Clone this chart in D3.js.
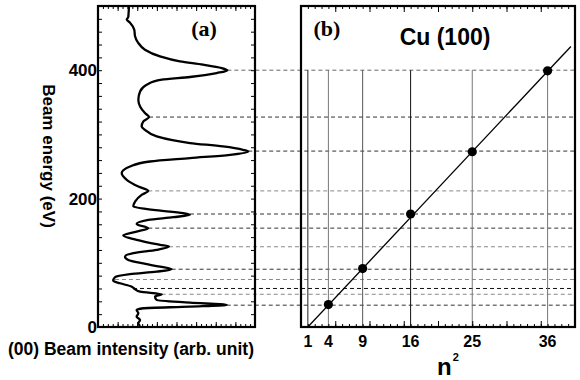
<!DOCTYPE html>
<html><head><meta charset="utf-8">
<script src="https://cdn.jsdelivr.net/npm/d3@7"></script>
<style>body{margin:0;background:#fff}svg{display:block}</style>
</head><body><svg id="c" width="580" height="380"></svg>
<script>
// (00) beam intensity curve: beam energy (eV) vs intensity (arb. unit)
const curveEnergy = [500,483,479,474,463,453,443,432,421.5,413.7,408.6,403.4,399.7,395.6,389.4,385.2,377.4,366.9,354,343.5,333.3,327,320.2,312.4,307.2,296.8,286.5,281.2,276,273.4,268.2,263.1,257.8,250,239.7,229.2,218.8,212.1,205.8,195.4,187.6,182.5,177.3,174.7,171.1,166.9,160.6,153.9,148.6,142.4,135.7,127.9,125.2,120.1,114.9,109.6,104.5,99.3,94,90,86.2,82.2,77.5,72.2,68.1,62.8,58.8,55,51,47.3,42.1,37.9,34.3,31.7,29.2,26.5,21.4,16.1,10.9,5.8,1.6];
const curveIntensity = [19.7,19.3,18.3,20.4,23.1,23.6,25.5,29.9,39.5,52.2,66.9,78.8,82.4,75.6,58.6,40.6,31,26.8,25.7,26.8,29.9,32.5,28.9,27.8,29.9,37.4,58.6,79.6,92.4,95.7,84.1,58.6,33.1,20.4,15.1,18.3,25.7,32,27.8,23.6,22.5,35.2,54.3,58.6,48,32,24.6,32,24.6,16.1,24.6,39.5,45.2,37.4,22.5,17.2,19.3,27.8,39.5,46.9,37.4,20.4,10.8,9.7,14,21.5,23.6,26.8,40.6,36.3,37.4,58.6,82,58.6,28.9,24.6,25.7,24.6,26.8,25.7,26.8];
// peak markers (dashed guide lines)
const peakEnergy = [400,327,274,212,176,154,125,90,74,60,51,34];
const peakIntensity = [82.4,32.5,95.7,32,58.6,32,45.2,46.9,10.8,22.3,40.6,82];
const peakShade = ["#666","#333","#333","#888","#333","#333","#888","#333","#888","#111","#888","#333"];
// panel (b): n^2 vs peak energy
const nSquared = [4,9,16,25,36];
const peakEnergyB = [35,91,176,273,399];
const gridN2 = [1,4,9,16,25,36];
const gridShade = ["#222","#777","#555","#111","#777","#777"];
const fitN2 = [1,39.4];
const fitEnergy = [0,437];
const yTickLabels = [0,200,400];
const xTickLabelsB = ["1","4","9","16","25","36"];

const svg = d3.select("#c");
const y = d3.scaleLinear().domain([0,500]).range([327,6]);
const xA = d3.scaleLinear().domain([0,100]).range([98,255]);
const xB = d3.scaleLinear().domain([0,40]).range([301,575]);
const sans = "'Liberation Sans', Arial, sans-serif";
const serif = "'Liberation Serif', 'Times New Roman', serif";

// dashed guide lines
svg.append("g").selectAll("line").data(peakEnergy).join("line")
  .attr("x1",(d,i)=>xA(peakIntensity[i])).attr("x2",xB.range()[1])
  .attr("y1",d=>y(d)).attr("y2",d=>y(d))
  .attr("stroke",(d,i)=>peakShade[i]).attr("stroke-width",1)
  .attr("stroke-dasharray","4,3");

// vertical grid lines in panel b
svg.append("g").selectAll("line").data(gridN2).join("line")
  .attr("x1",d=>xB(d)).attr("x2",d=>xB(d))
  .attr("y1",y(0)).attr("y2",y(400))
  .attr("stroke",(d,i)=>gridShade[i]).attr("stroke-width",1);

// ticks helper
function ticksAxis(axisGen, transform){
  const g = svg.append("g").attr("transform",transform).call(axisGen);
  g.select(".domain").remove();
  g.selectAll("text").remove();
  g.selectAll("line").attr("stroke","#000").attr("stroke-width",1);
  return g;
}
// panel a: y ticks both sides (inward)
const yMinor = d3.range(0,501,20);
ticksAxis(d3.axisRight(y).tickValues(yMinor).tickSize(4),`translate(${xA.range()[0]},0)`);
ticksAxis(d3.axisLeft(y).tickValues(yMinor).tickSize(4),`translate(${xA.range()[1]},0)`);
const xAminor = d3.range(0,100.1,3.125);
ticksAxis(d3.axisTop(xA).tickValues(xAminor).tickSize(3),`translate(0,${y(0)})`);
ticksAxis(d3.axisBottom(xA).tickValues(xAminor).tickSize(3),`translate(0,${y(500)})`);
ticksAxis(d3.axisTop(xA).tickValues(d3.range(12.5,100,12.5)).tickSize(5),`translate(0,${y(0)})`);
ticksAxis(d3.axisBottom(xA).tickValues(d3.range(12.5,100,12.5)).tickSize(5),`translate(0,${y(500)})`);
// panel b x ticks
const xBminor = d3.range(1,40,1);
ticksAxis(d3.axisTop(xB).tickValues(xBminor).tickSize(3),`translate(0,${y(0)})`);
ticksAxis(d3.axisBottom(xB).tickValues(xBminor).tickSize(3),`translate(0,${y(500)})`);
ticksAxis(d3.axisTop(xB).tickValues(d3.range(5,40,5)).tickSize(6),`translate(0,${y(0)})`);
ticksAxis(d3.axisBottom(xB).tickValues(d3.range(5,40,5)).tickSize(6),`translate(0,${y(500)})`);

// intensity curve
const pts = curveEnergy.map((e,i)=>[curveIntensity[i],e]);
svg.append("path").datum(pts)
  .attr("d",d3.line().x(d=>xA(d[0])).y(d=>y(d[1])).curve(d3.curveMonotoneY))
  .attr("fill","none").attr("stroke","#000").attr("stroke-width",2.3).attr("stroke-linejoin","round");

// fit line and points
svg.append("line")
  .attr("x1",xB(fitN2[0])).attr("y1",y(fitEnergy[0]))
  .attr("x2",xB(fitN2[1])).attr("y2",y(fitEnergy[1]))
  .attr("stroke","#000").attr("stroke-width",1.3);
svg.append("g").selectAll("circle").data(nSquared).join("circle")
  .attr("cx",d=>xB(d)).attr("cy",(d,i)=>y(peakEnergyB[i])).attr("r",4.6).attr("fill","#000");

// frames
[xA,xB].forEach(s=>{
  svg.append("rect").attr("x",s.range()[0]).attr("y",y(500))
    .attr("width",s.range()[1]-s.range()[0]).attr("height",y(0)-y(500))
    .attr("fill","none").attr("stroke","#000").attr("stroke-width",2.2);
});

// y tick labels
svg.append("g").selectAll("text").data(yTickLabels).join("text")
  .attr("x",xA.range()[0]-1).attr("y",d=>y(d)).attr("dy","0.36em")
  .attr("text-anchor","end").attr("font-family",sans).attr("font-weight","bold")
  .attr("font-size",17).text(d=>d);
// x tick labels panel b
svg.append("g").selectAll("text").data(gridN2).join("text")
  .attr("x",d=>xB(d)).attr("y",347).attr("text-anchor","middle")
  .attr("font-family",sans).attr("font-weight","bold").attr("font-size",16)
  .text((d,i)=>xTickLabelsB[i]);

// titles
svg.append("text").attr("transform","translate(43,156) rotate(90)")
  .attr("text-anchor","middle").attr("font-family",sans).attr("font-weight","bold")
  .attr("font-size",17).text("Beam energy (eV)");
svg.append("text").attr("x",131).attr("y",355).attr("text-anchor","middle")
  .attr("font-family",sans).attr("font-weight","bold").attr("font-size",17.5)
  .text("(00) Beam intensity (arb. unit)");
const nl = svg.append("text").attr("x",437).attr("y",375)
  .attr("font-family",sans).attr("font-weight","bold").attr("font-size",24);
nl.append("tspan").text("n");
nl.append("tspan").attr("font-size",11).attr("dy",-14).attr("dx",1).text("2");
svg.append("text").attr("x",204).attr("y",36).attr("text-anchor","middle")
  .attr("font-family",serif).attr("font-weight","bold").attr("font-size",22).text("(a)");
svg.append("text").attr("x",327).attr("y",36).attr("text-anchor","middle")
  .attr("font-family",serif).attr("font-weight","bold").attr("font-size",22).text("(b)");
svg.append("text").attr("x",445).attr("y",45).attr("text-anchor","middle")
  .attr("font-family",sans).attr("font-weight","bold").attr("font-size",23).text("Cu (100)");
</script></body></html>
